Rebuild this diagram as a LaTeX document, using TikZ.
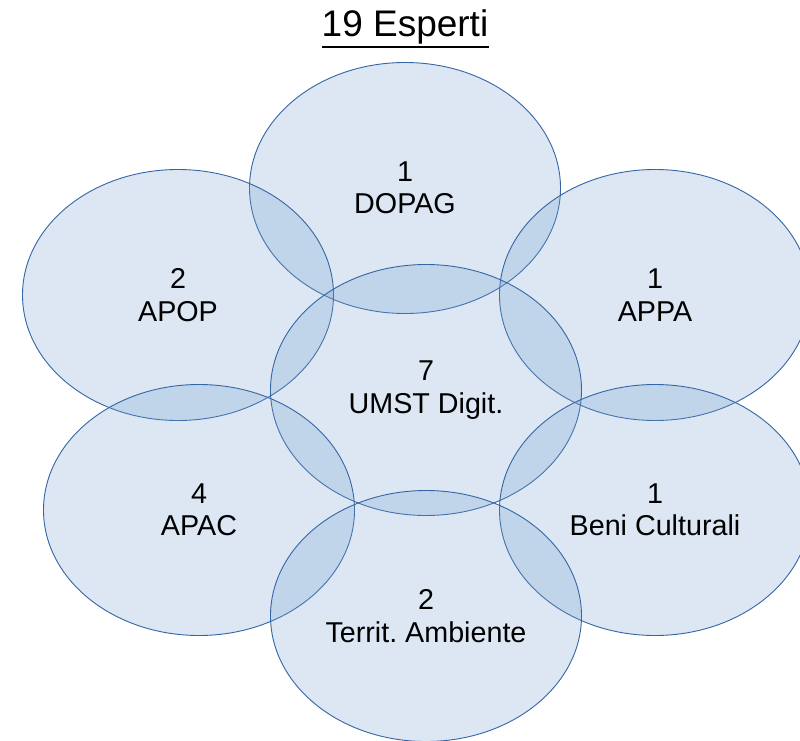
\documentclass[tikz,border=0pt]{standalone}
\usepackage{fontspec}
\setmainfont{Liberation Sans}
\usetikzlibrary{shapes.geometric}
\definecolor{efill}{HTML}{729FCF}
\definecolor{eline}{HTML}{3465A4}
\frenchspacing
\tikzset{
  grp/.style={ellipse, draw=eline, line width=0.9pt, fill=efill, fill opacity=0.25, text opacity=1,
    minimum width=311pt, minimum height=251pt, inner sep=0pt, align=center},
}
\begin{document}
\begin{tikzpicture}[x=1pt,y=-1pt]
\useasboundingbox (0,0) rectangle (800,741);
\clip (0,0) rectangle (800,741);
\node[grp] (dopag) at (405,188) {};
\node[grp] (apop) at (178,295) {};
\node[grp] (appa) at (655,295) {};
\node[grp] (umst) at (426,390) {};
\node[grp] (apac) at (199,510) {};
\node[grp] (beni) at (655,510) {};
\node[grp] (terr) at (426,616) {};
\begin{scope}[every node/.style={align=center, font=\fontsize{28.7}{32.5}\selectfont, inner sep=0pt}]
\node (tdopag) at (dopag) {1\\DOPAG};
\node (tapop) at (apop) {2\\APOP};
\node (tappa) at (appa) {1\\APPA};
\node (tumst) at (umst) {7\\UMST Digit.};
\node (tapac) at (apac) {4\\APAC};
\node (tbeni) at (beni) {1\\Beni Culturali};
\node (tterr) at (terr) {2\\Territ. Ambiente};
\end{scope}
\node[font=\fontsize{37}{40}\selectfont, inner sep=0pt] (title) at (405,27) {19 Esperti};
\draw[line width=2pt] ([yshift=-3pt]title.south west) -- ([yshift=-3pt]title.south east);
\end{tikzpicture}
\end{document}
